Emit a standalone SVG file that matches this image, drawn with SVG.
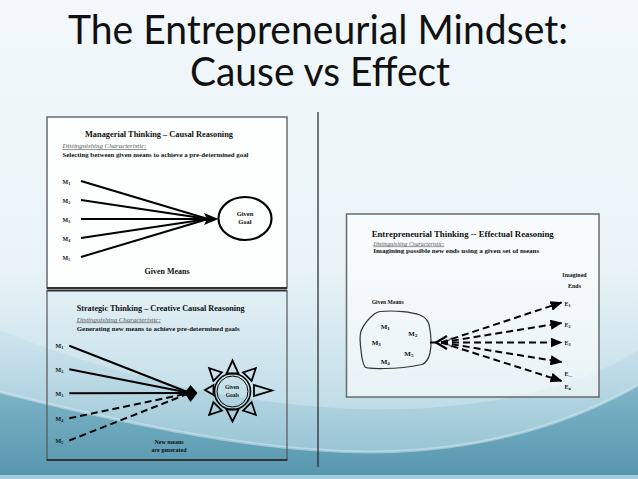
<svg xmlns="http://www.w3.org/2000/svg" width="638" height="479" viewBox="0 0 638 479">
  <defs>
    <linearGradient id="bg" x1="0" y1="0" x2="0" y2="1">
      <stop offset="0" stop-color="#f2f8fb"/>
      <stop offset="0.55" stop-color="#eaf4f8"/>
      <stop offset="0.75" stop-color="#cfe5ed"/>
      <stop offset="1" stop-color="#a9d0de"/>
    </linearGradient>
    <linearGradient id="wave1" x1="0" y1="0" x2="0" y2="1">
      <stop offset="0" stop-color="#c3dfe9" stop-opacity="0.6"/>
      <stop offset="1" stop-color="#7db4c7"/>
    </linearGradient>
    <linearGradient id="wave2" x1="0" y1="0" x2="0" y2="1">
      <stop offset="0" stop-color="#7fb5c8"/>
      <stop offset="1" stop-color="#5596ae"/>
    </linearGradient>
    <marker id="arr" viewBox="0 0 12 10" refX="11" refY="5" markerWidth="12" markerHeight="10" markerUnits="userSpaceOnUse" orient="auto">
      <path d="M0,0 L12,5 L0,10 Z" fill="#000"/>
    </marker>
    <style>
      .title { font-family: Lato, "Open Sans", "DejaVu Sans", sans-serif; font-size: 40px; fill: #111; }
      .t { font-family: "Liberation Serif", "Times New Roman", serif; font-weight: bold; fill: #111; }
      .h { font-size: 7.5px; }
      .di { font-family: "Liberation Serif", "Times New Roman", serif; font-style: italic; fill: #555; text-decoration: underline; }
      .m { font-size: 6px; }
      .sub { font-size: 4.2px; }
      .ln { stroke: #000; stroke-width: 2; fill: none; }
      .dash { stroke: #000; stroke-width: 2; fill: none; stroke-dasharray: 7 4; }
      .tri { stroke: #000; stroke-width: 1.8; fill: none; stroke-linejoin: miter; }
      .panel { stroke: #6a6a6a; stroke-width: 1.5; }
    </style>
  </defs>

  <!-- background -->
  <rect x="0" y="0" width="638" height="479" fill="url(#bg)"/>
  <path d="M0,330 C160,395 330,420 460,405 C540,396 600,375 638,350 L638,479 L0,479 Z" fill="url(#wave1)" opacity="0.7"/>
  <path d="M0,392 C150,430 300,460 420,450 C520,442 590,412 638,385 L638,479 L0,479 Z" fill="url(#wave2)"/>
  <path d="M0,392 C150,430 300,460 420,450 C520,442 590,412 638,385" fill="none" stroke="#d9ecf2" stroke-width="3" opacity="0.5"/>
  <rect x="0" y="475" width="638" height="4" fill="#a3cddb"/>

  <!-- title -->
  <g id="title">
    <text class="title" x="318" y="44" text-anchor="middle" textLength="500" lengthAdjust="spacingAndGlyphs">The Entrepreneurial Mindset:</text>
    <text class="title" x="320" y="86" text-anchor="middle" textLength="260" lengthAdjust="spacingAndGlyphs">Cause vs Effect</text>
  </g>

  <!-- divider -->
  <line x1="318" y1="112" x2="318" y2="467" stroke="#222" stroke-width="1.2"/>

  <!-- Panel 1: Managerial thinking -->
  <g id="panel-managerial">
    <rect class="panel" x="47" y="117" width="240" height="171" fill="#fdfefe"/>
    <line x1="47" y1="288" x2="287" y2="288" stroke="#333" stroke-width="2"/>
    <text class="t h" x="159" y="136.5" text-anchor="middle" textLength="148" lengthAdjust="spacingAndGlyphs">Managerial Thinking  –  Causal Reasoning</text>
    <text class="di" x="62.5" y="148" font-size="6.3" textLength="84" lengthAdjust="spacingAndGlyphs">Distinguishing Characteristic:</text>
    <text class="t" x="62.5" y="157" font-size="6.2" textLength="186" lengthAdjust="spacingAndGlyphs">Selecting between given means to achieve a pre-determined goal</text>
    <g id="m-given-1">
      <text class="t m" x="62.5" y="184">M<tspan class="sub" dy="1.2">1</tspan></text>
      <text class="t m" x="62.5" y="203">M<tspan class="sub" dy="1.2">2</tspan></text>
      <text class="t m" x="62.5" y="222">M<tspan class="sub" dy="1.2">3</tspan></text>
      <text class="t m" x="62.5" y="240.5">M<tspan class="sub" dy="1.2">4</tspan></text>
      <text class="t m" x="62.5" y="259.5">M<tspan class="sub" dy="1.2">5</tspan></text>
    </g>
    <g id="goal">
      <ellipse cx="245" cy="218.5" rx="26.5" ry="21.5" fill="none" stroke="#000" stroke-width="2.2"/>
      <text class="t" x="245" y="215.5" font-size="6.5" text-anchor="middle">Given</text>
      <text class="t" x="245" y="224" font-size="6.5" text-anchor="middle">Goal</text>
    </g>
    <text class="t h" x="167" y="273.5" text-anchor="middle" textLength="45" lengthAdjust="spacingAndGlyphs">Given Means</text>
  </g>

  <!-- Panel 2: Strategic thinking -->
  <g id="panel-strategic">
    <line x1="47" y1="290.5" x2="287" y2="290.5" stroke="#333" stroke-width="2"/>
    <line x1="47" y1="290" x2="47" y2="460" stroke="#555" stroke-width="1.2"/>
    <line x1="287" y1="290" x2="287" y2="460" stroke="#555" stroke-width="1.2"/>
    <line x1="46.5" y1="460" x2="287.5" y2="460" stroke="#333" stroke-width="2"/>
    <text class="t h" x="76.7" y="310.5" textLength="168" lengthAdjust="spacingAndGlyphs">Strategic Thinking  – Creative Causal Reasoning</text>
    <text class="di" x="76.7" y="321.5" font-size="6.2" textLength="84" lengthAdjust="spacingAndGlyphs">Distinguishing Characteristic:</text>
    <text class="t" x="76.7" y="330.5" font-size="6.2" textLength="163" lengthAdjust="spacingAndGlyphs">Generating new means to achieve pre-determined goals</text>
    <g id="m-given-2">
      <text class="t m" x="55.5" y="348">M<tspan class="sub" dy="1.2">1</tspan></text>
      <text class="t m" x="55.5" y="372">M<tspan class="sub" dy="1.2">2</tspan></text>
      <text class="t m" x="55.5" y="396">M<tspan class="sub" dy="1.2">3</tspan></text>
      <text class="t m" x="55.5" y="420.5">M<tspan class="sub" dy="1.2">4</tspan></text>
      <text class="t m" x="55.5" y="443">M<tspan class="sub" dy="1.2">5</tspan></text>
    </g>
    <g id="goals-sun">
      <circle cx="232.5" cy="391.5" r="18" fill="none" stroke="#000" stroke-width="1.6"/>
      <circle cx="232.5" cy="391.5" r="15.5" fill="none" stroke="#000" stroke-width="1"/>
      <polygon class="tri" points="226.5,373.5 238.5,373.5 232.5,360.5"/>
      <polygon class="tri" points="226.5,409.5 238.5,409.5 232.5,421.5"/>
      <polygon class="tri" points="254,385 254,396 272,390.5"/>
      <polygon class="tri" points="213.5,385 213.5,395 205,390"/>
      <polygon class="tri" points="251.6,380.9 243.1,372.4 255.8,368.2"/>
      <polygon class="tri" points="221.9,372.4 213.4,380.9 209.2,368.2"/>
      <polygon class="tri" points="251.6,402.1 243.1,410.6 255.8,414.8"/>
      <polygon class="tri" points="221.9,410.6 213.4,402.1 209.2,414.8"/>
      <text class="t" x="232" y="388.5" font-size="5.5" text-anchor="middle">Given</text>
      <text class="t" x="232.5" y="397" font-size="5.5" text-anchor="middle">Goals</text>
    </g>
    <text class="t" x="169" y="443.5" font-size="6" text-anchor="middle">New means</text>
    <text class="t" x="169" y="451.5" font-size="6" text-anchor="middle">are generated</text>
  </g>

  <!-- Panel 3: Entrepreneurial thinking -->
  <g id="panel-effectual">
    <rect class="panel" x="346.5" y="214" width="252.5" height="183" fill="#ffffff" fill-opacity="0.6"/>
    <text class="t" x="371.7" y="237" font-size="8" textLength="182" lengthAdjust="spacingAndGlyphs">Entrepreneurial Thinking  --  Effectual Reasoning</text>
    <text class="di" x="373.3" y="245.5" font-size="5.8" textLength="71" lengthAdjust="spacingAndGlyphs">Distinguishing Characteristic:</text>
    <text class="t" x="373.3" y="253" font-size="6.3" textLength="166" lengthAdjust="spacingAndGlyphs">Imagining possible new ends using a given set of means</text>
    <text class="t" x="574.5" y="277" font-size="6" text-anchor="middle">Imagined</text>
    <text class="t" x="574.5" y="288" font-size="6" text-anchor="middle">Ends</text>
    <text class="t" x="371.7" y="304" font-size="6" textLength="32" lengthAdjust="spacingAndGlyphs">Given Means</text>
    <g id="given-means-blob">
      <path d="M380,311.5 C395,310 412,312 420,315 C427,318 429,322 429.5,327 C431,335 431.5,346 430,353 C428.5,359 426,363 422,364.5 C410,367 395,368.5 385,368.5 C376,368.5 368,369 365,367 C362,362 361.5,356 361,350 C360,343 359.5,336 361,331 C364,324 369,318 375,313.5 C377,312.2 378.5,311.7 380,311.5 Z" fill="none" stroke="#333" stroke-width="1.2"/>
      <text class="t" x="380.7" y="329" font-size="7">M<tspan font-size="5" dy="1.3">1</tspan></text>
      <text class="t" x="408.3" y="335.5" font-size="7">M<tspan font-size="5" dy="1.3">2</tspan></text>
      <text class="t" x="371.7" y="345" font-size="7">M<tspan font-size="5" dy="1.3">3</tspan></text>
      <text class="t" x="404.3" y="356" font-size="7">M<tspan font-size="5" dy="1.3">5</tspan></text>
      <text class="t" x="380.7" y="364" font-size="7">M<tspan font-size="5" dy="1.3">4</tspan></text>
    </g>
    <g id="ends">
      <text class="t m" x="564.5" y="306">E<tspan class="sub" dy="1.2">1</tspan></text>
      <text class="t m" x="564.5" y="326.5">E<tspan class="sub" dy="1.2">2</tspan></text>
      <text class="t m" x="564.5" y="345">E<tspan class="sub" dy="1.2">3</tspan></text>
      <text class="t m" x="564.5" y="375.5">E<tspan class="sub" dy="1.2">…</tspan></text>
      <text class="t m" x="564.5" y="389">E<tspan class="sub" dy="1.2">n</tspan></text>
    </g>
  </g>

  <!-- connectors -->
  <g id="connectors">
    <!-- managerial -->
    <line class="ln" x1="81" y1="181" x2="208" y2="219"/>
    <line class="ln" x1="81" y1="200" x2="208" y2="219"/>
    <line class="ln" x1="81" y1="219" x2="208" y2="219"/>
    <line class="ln" x1="81" y1="238" x2="208" y2="219"/>
    <line class="ln" x1="81" y1="257" x2="208" y2="219"/>
    <polygon points="204,213 218.5,219 204,225 207,219" fill="#000"/>
    <!-- strategic -->
    <line class="ln" x1="69.3" y1="345.7" x2="190" y2="393"/>
    <line class="ln" x1="69.3" y1="369.3" x2="190" y2="393"/>
    <line class="ln" x1="69.3" y1="393.3" x2="190" y2="393"/>
    <line class="dash" x1="69.3" y1="418.3" x2="190" y2="393"/>
    <line class="dash" x1="69.3" y1="440.5" x2="190" y2="393"/>
    <polygon points="184.5,393 190.5,385 197.5,393 190.5,402" fill="#000"/>
    <!-- effectual -->
    <line x1="430" y1="342.5" x2="437" y2="342.5" stroke="#000" stroke-width="2"/>
    <path d="M447,336 L436,342.5 L447,349" fill="none" stroke="#000" stroke-width="2.2"/>
    <path d="M452,338 L445,342.5 L452,347" fill="none" stroke="#777" stroke-width="1.5"/>
    <line class="dash" x1="441" y1="342.5" x2="561.5" y2="302.5" marker-end="url(#arr)"/>
    <line class="dash" x1="441" y1="342.5" x2="561.5" y2="323" marker-end="url(#arr)"/>
    <line class="dash" x1="441" y1="342.5" x2="561.5" y2="342.5" marker-end="url(#arr)"/>
    <line class="dash" x1="441" y1="342.5" x2="561.5" y2="362" marker-end="url(#arr)"/>
    <line class="dash" x1="441" y1="342.5" x2="561.5" y2="381" marker-end="url(#arr)"/>
  </g>
</svg>
